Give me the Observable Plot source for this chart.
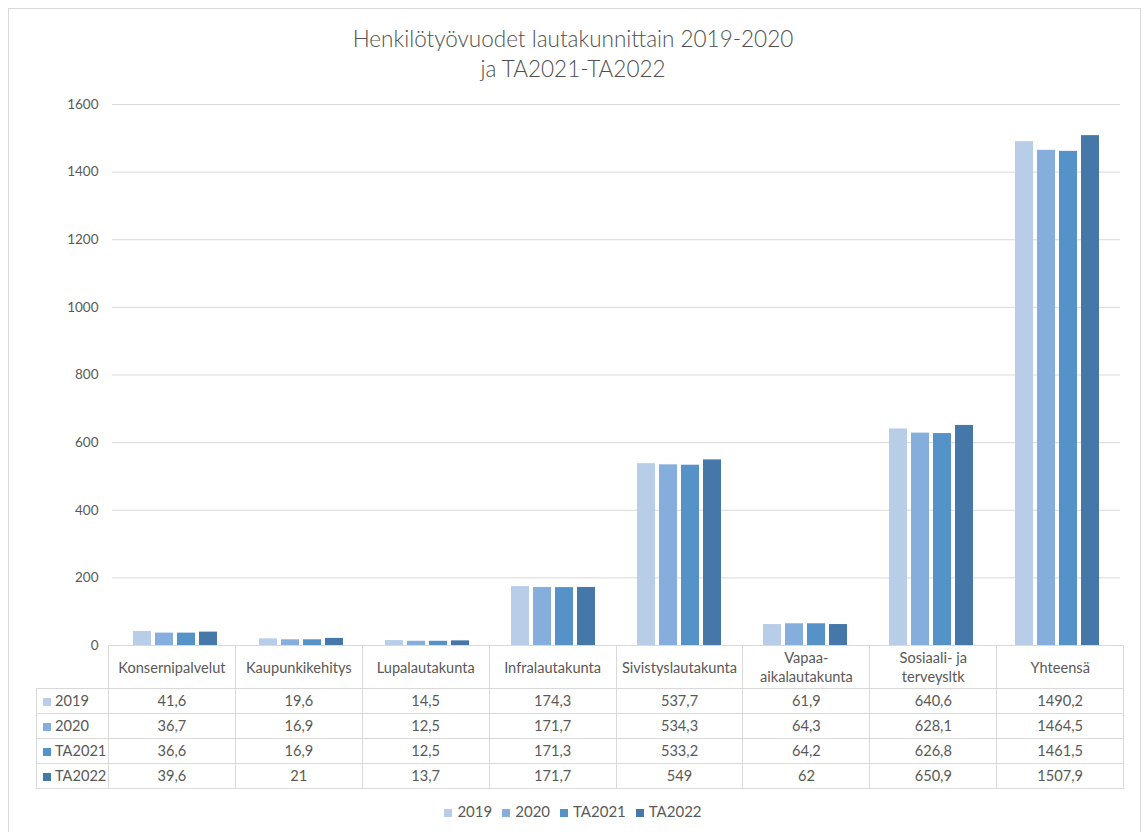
<!DOCTYPE html>
<html>
<head>
<meta charset="utf-8">
<script src="https://cdn.jsdelivr.net/npm/d3@7"></script>
<script src="https://cdn.jsdelivr.net/npm/@observablehq/plot@0.6"></script>
<style>
  html, body { margin: 0; padding: 0; background: #fff; }
  #wrap { position: relative; width: 1146px; height: 832px; overflow: hidden; font-family: Lato, "Open Sans", sans-serif; color: #595959; }
  #frame { position: absolute; left: 8px; top: 8px; width: 1133px; height: 900px; border: 1px solid #d9d9d9; box-sizing: border-box; }
  #title { position: absolute; left: 0; width: 1146px; top: 24px; text-align: center; font-size: 22.5px; font-weight: 300; line-height: 30px; color: #505050; }
  #chart { position: absolute; left: 0; top: 0; }
  table { position: absolute; left: 36px; top: 645px; border-collapse: collapse; font-size: 14.6px; color: #595959; table-layout: fixed; }
  td { border: 1px solid #d9d9d9; text-align: center; padding: 0; height: 24px; line-height: 16px; }
  td.head { height: 42px; line-height: 19px; }
  td.empty { border-left: none; border-top: none; border-bottom: 1px solid #d9d9d9; }
  td.lab { text-align: left; padding-left: 6px; white-space: nowrap; }
  .sw { display: inline-block; width: 8px; height: 8px; margin-right: 4px; vertical-align: 0px; }
  #legend { position: absolute; left: 0; width: 1146px; top: 802px; text-align: center; font-size: 15px; color: #595959; }
  #legend span.item { margin: 0 5px; }
  #legend .sw { margin-right: 5px; }
</style>
</head>
<body>
<div id="wrap">
  <div id="frame"></div>
  <div id="title">Henkilötyövuodet lautakunnittain 2019-2020<br>ja TA2021-TA2022</div>
  <div id="chart"></div>
  <table id="tbl"></table>
  <div id="legend"></div>
</div>
<script>
const categories = ["Konsernipalvelut", "Kaupunkikehitys", "Lupalautakunta", "Infralautakunta", "Sivistyslautakunta", "Vapaa-aikalautakunta", "Sosiaali- ja terveysltk", "Yhteensä"];
const series = ["2019", "2020", "TA2021", "TA2022"];
const values2019 = [41.6, 19.6, 14.5, 174.3, 537.7, 61.9, 640.6, 1490.2];
const values2020 = [36.7, 16.9, 12.5, 171.7, 534.3, 64.3, 628.1, 1464.5];
const valuesTA2021 = [36.6, 16.9, 12.5, 171.3, 533.2, 64.2, 626.8, 1461.5];
const valuesTA2022 = [39.6, 21, 13.7, 171.7, 549, 62, 650.9, 1507.9];
const yTicks = [0, 200, 400, 600, 800, 1000, 1200, 1400, 1600];

const colors = ["#b7cde8", "#86aedd", "#5592c8", "#4577a8"];
const seriesValues = [values2019, values2020, valuesTA2021, valuesTA2022];

const data = [];
categories.forEach((c, i) => {
  series.forEach((s, j) => data.push({category: c, series: s, value: seriesValues[j][i]}));
});

const chart = Plot.plot({
  width: 1146,
  height: 665,
  marginTop: 104,
  marginBottom: 20,
  marginLeft: 108,
  marginRight: 23,
  style: {fontFamily: "Lato, 'Open Sans', sans-serif", fontSize: "14px", color: "#595959", background: "transparent"},
  fx: {domain: categories, padding: 0, axis: null, label: null},
  x: {domain: series, paddingInner: 0.2, paddingOuter: 0.86, axis: null},
  y: {domain: [0, 1600], label: null},
  color: {domain: series, range: colors},
  marks: [
    Plot.ruleY(yTicks, {stroke: "#d9d9d9", strokeWidth: 1}),
    Plot.barY(data, {fx: "category", x: "series", y: "value", fill: "series"}),
    Plot.axisY(yTicks, {tickSize: 0, tickPadding: 14, fill: "#595959", fontSize: 13.5, label: null, tickFormat: d => String(d)})
  ]
});
document.getElementById("chart").appendChild(chart);

// data table
const fmt = v => String(v).replace(".", ",");
const tbl = document.getElementById("tbl");
const colgroup = document.createElement("colgroup");
const widths = [72].concat(categories.map(() => 126.9));
widths.forEach(w => { const col = document.createElement("col"); col.style.width = w + "px"; colgroup.appendChild(col); });
tbl.appendChild(colgroup);
const head = document.createElement("tr");
const empty = document.createElement("td"); empty.className = "head empty"; head.appendChild(empty);
categories.forEach(c => {
  const td = document.createElement("td"); td.className = "head";
  td.textContent = c;
  head.appendChild(td);
});
tbl.appendChild(head);
series.forEach((s, j) => {
  const tr = document.createElement("tr");
  const lab = document.createElement("td"); lab.className = "lab";
  lab.innerHTML = `<span class="sw" style="background:${colors[j]}"></span>${s}`;
  tr.appendChild(lab);
  seriesValues[j].forEach(v => {
    const td = document.createElement("td"); td.textContent = fmt(v); tr.appendChild(td);
  });
  tbl.appendChild(tr);
});

// legend
document.getElementById("legend").innerHTML = series.map((s, j) =>
  `<span class="item"><span class="sw" style="background:${colors[j]}"></span>${s}</span>`).join("");
</script>
</body>
</html>
